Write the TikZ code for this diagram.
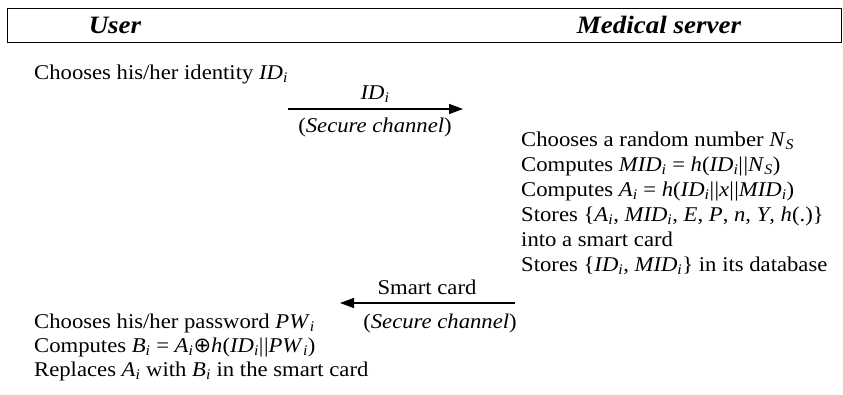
\documentclass[tikz,border=0pt]{standalone}
\usepackage{fontspec}
\setmainfont{Liberation Serif}[FakeStretch=1.08]
\newfontfamily\symfont{DejaVu Sans}
\usetikzlibrary{arrows.meta}
\newcommand{\mysub}[1]{\textsubscript{\textit{#1}}}
\newcommand{\iv}[2]{\textit{#1}\mysub{#2}}
\newcommand{\cc}{{\upshape|\kern0.6pt|}}
\newcommand{\xor}{{\symfont\fontsize{21}{20}\selectfont⊕}}
\begin{document}
\begin{tikzpicture}[x=1pt,y=-1pt,
  txt/.style={inner sep=0pt, anchor=base west, font=\fontsize{21}{24}\selectfont},
  mid/.style={inner sep=0pt, anchor=base, font=\fontsize{21}{24}\selectfont},
  hdrtxt/.style={inner sep=0pt, font=\fontsize{25}{28}\selectfont\bfseries\itshape},
  arr/.style={line width=1.4pt, -{Triangle[length=14pt,width=10pt]}}]
\useasboundingbox (0,0) rectangle (843,394);
\node[draw, line width=1pt, minimum width=834pt, minimum height=34pt, anchor=north west, inner sep=0pt] (hdr) at (7,8) {};
\node[hdrtxt] (user) at (115,25) {User};
\node[hdrtxt] (ms) at (659,25) {Medical server};
% first step
\node[txt] (l1) at (34,79) {Chooses his/her identity \iv{ID}{i}};
\coordinate (a1s) at (288,109);
\coordinate (a1e) at (463,109);
\draw[arr] (a1s) -- (a1e);
\node[mid] (a1t) at (375,99) {\iv{ID}{i}};
\node[mid] (a1b) at (375,132) {(\textit{Secure channel})};
% server
\node[txt] (s1) at (521,146) {Chooses a random number \iv{N}{S}};
\node[txt] (s2) at (521,171) {Computes \iv{MID}{i} = \textit{h}(\iv{ID}{i}\cc\iv{N}{S})};
\node[txt] (s3) at (521,196) {Computes \iv{A}{i} = \textit{h}(\iv{ID}{i}\cc\textit{x}\cc\iv{MID}{i})};
\node[txt] (s4) at (521,221) {Stores \{\iv{A}{i}, \iv{MID}{i}, \textit{E}, \textit{P}, \textit{n}, \textit{Y}, \textit{h}(.)\}};
\node[txt] (s5) at (521,246) {into a smart card};
\node[txt] (s6) at (521,271) {Stores \{\iv{ID}{i}, \iv{MID}{i}\} in its database};
% second arrow
\coordinate (a2s) at (515,303);
\coordinate (a2e) at (340,303);
\draw[arr] (a2s) -- (a2e);
\node[mid] (a2t) at (427,294) {Smart card};
\node[mid] (a2b) at (440,328) {(\textit{Secure channel})};
% user bottom
\node[txt] (u1) at (34,328) {Chooses his/her password \iv{PW}{i}};
\node[txt] (u2) at (34,352) {Computes \iv{B}{i} = \iv{A}{i}\xor\textit{h}(\iv{ID}{i}\cc\iv{PW}{i})};
\node[txt] (u3) at (34,376) {Replaces \iv{A}{i} with \iv{B}{i} in the smart card};
\end{tikzpicture}
\end{document}
